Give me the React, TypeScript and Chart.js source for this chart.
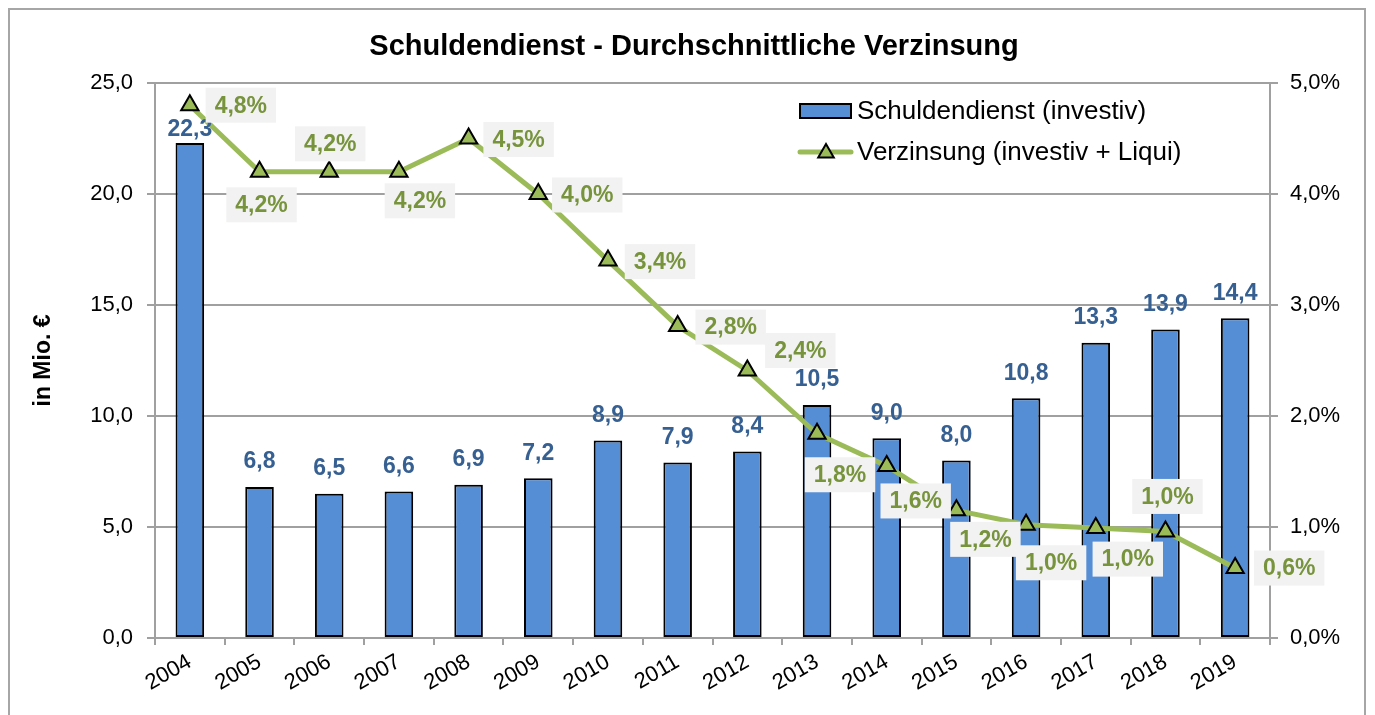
import { useEffect, useRef } from "react";
import { Chart, registerables } from "chart.js";

Chart.register(...registerables);

const years = ["2004", "2005", "2006", "2007", "2008", "2009", "2010", "2011", "2012", "2013", "2014", "2015", "2016", "2017", "2018", "2019"];
const debtService = [22.3, 6.8, 6.5, 6.6, 6.9, 7.2, 8.9, 7.9, 8.4, 10.5, 9.0, 8.0, 10.8, 13.3, 13.9, 14.4];
const interestRate = [4.8, 4.2, 4.2, 4.2, 4.5, 4.0, 3.4, 2.81, 2.41, 1.84, 1.55, 1.15, 1.02, 0.99, 0.96, 0.63];
const leftTicks = [0, 5, 10, 15, 20, 25];
const rightTicks = [0, 1, 2, 3, 4, 5];

const titleText = "Schuldendienst - Durchschnittliche Verzinsung";
const barLegend = "Schuldendienst (investiv)";
const lineLegend = "Verzinsung (investiv + Liqui)";
const yTitle = "in Mio. €";

// label placement (layout only)
const rateLabelOffsets: [number, number][] = [
  [51, 0], [2, 33], [1, -28], [21, 29], [50, 1], [49, 1], [52, 1], [53, 1],
  [53, -20], [23, 41], [29, 35], [29, 29], [25, 38], [32, 31], [2, -35], [54, 0],
];
const barLabelGap = [13, 25, 25, 25, 25, 25, 25, 25, 25, 25, 25, 25, 25, 25, 25, 25];

const FONT = "'Liberation Sans', Arial, sans-serif";
const BLUE = "#558ED5";
const GREEN = "#9BBB59";
const GRID = "#A0A0A0";

const fmt1 = (v: number) => (Math.round(v * 10 + 1e-6) / 10).toFixed(1).replace(".", ",");

function triangle(ctx: CanvasRenderingContext2D, x: number, y: number, r: number) {
  ctx.beginPath();
  ctx.moveTo(x, y - r);
  ctx.lineTo(x + r * Math.sin((2 * Math.PI) / 3), y - r * Math.cos((2 * Math.PI) / 3));
  ctx.lineTo(x + r * Math.sin((4 * Math.PI) / 3), y - r * Math.cos((4 * Math.PI) / 3));
  ctx.closePath();
  ctx.fillStyle = GREEN;
  ctx.fill();
  ctx.lineWidth = 2;
  ctx.strokeStyle = "#000";
  ctx.stroke();
}

const decorPlugin = {
  id: "decor",
  beforeDraw(chart: any) {
    const ctx = chart.ctx as CanvasRenderingContext2D;
    ctx.save();
    ctx.fillStyle = "#fff";
    ctx.fillRect(0, 0, chart.width, chart.height);
    ctx.strokeStyle = "#A6A6A6";
    ctx.lineWidth = 2;
    ctx.strokeRect(9, 9, 1356, 730);
    ctx.restore();
  },
  afterDatasetsDraw(chart: any) {
    const ctx = chart.ctx as CanvasRenderingContext2D;
    ctx.save();
    // bar labels
    const barMeta = chart.getDatasetMeta(1);
    ctx.font = `bold 23px ${FONT}`;
    ctx.fillStyle = "#376092";
    ctx.textAlign = "center";
    ctx.textBaseline = "middle";
    barMeta.data.forEach((el: any, i: number) => {
      ctx.fillText(fmt1(debtService[i]), el.x, el.y - barLabelGap[i]);
    });
    // line labels
    const lineMeta = chart.getDatasetMeta(0);
    lineMeta.data.forEach((el: any, i: number) => {
      const txt = fmt1(interestRate[i]) + "%";
      const [dx, dy] = rateLabelOffsets[i];
      const cx = el.x + dx;
      const cy = el.y + dy;
      const w = ctx.measureText(txt).width + 18;
      const h = 35;
      ctx.fillStyle = "#F2F2F2";
      ctx.fillRect(cx - w / 2, cy - h / 2, w, h);
      ctx.fillStyle = "#77933C";
      ctx.fillText(txt, cx, cy + 1);
    });
    ctx.restore();
  },
  afterDraw(chart: any) {
    const ctx = chart.ctx as CanvasRenderingContext2D;
    ctx.save();
    // title
    ctx.fillStyle = "#000";
    ctx.font = `bold 29px ${FONT}`;
    ctx.textAlign = "center";
    ctx.textBaseline = "middle";
    ctx.fillText(titleText, 694, 47, 654);
    // legend
    ctx.fillStyle = BLUE;
    ctx.fillRect(800, 104, 51, 14);
    ctx.strokeStyle = "#000";
    ctx.lineWidth = 2;
    ctx.strokeRect(800, 104, 51, 14);
    ctx.strokeStyle = GREEN;
    ctx.lineWidth = 5;
    ctx.lineCap = "round";
    ctx.beginPath();
    ctx.moveTo(800, 152);
    ctx.lineTo(851, 152);
    ctx.stroke();
    triangle(ctx, 826, 153, 9);
    ctx.fillStyle = "#000";
    ctx.font = `26px ${FONT}`;
    ctx.textAlign = "left";
    ctx.textBaseline = "middle";
    ctx.fillText(barLegend, 857, 112);
    ctx.fillText(lineLegend, 857, 153);
    ctx.restore();
  },
};

export default function App() {
  const ref = useRef<HTMLCanvasElement | null>(null);
  useEffect(() => {
    document.body.style.margin = "0";
    const canvas = ref.current!;
    const chart = new Chart(canvas, {
      type: "bar",
      data: {
        labels: years,
        datasets: [
          {
            type: "line",
            label: lineLegend,
            data: interestRate,
            yAxisID: "y1",
            order: 0,
            borderColor: GREEN,
            borderWidth: 5,
            tension: 0,
            borderJoinStyle: "round",
            pointStyle: "triangle",
            pointRadius: 10,
            pointBackgroundColor: GREEN,
            pointBorderColor: "#000",
            pointBorderWidth: 2,
          } as any,
          {
            type: "bar",
            label: barLegend,
            data: debtService,
            yAxisID: "y",
            order: 1,
            backgroundColor: BLUE,
            borderColor: "#000",
            borderWidth: 2,
            borderSkipped: false,
            barPercentage: 0.41,
            categoryPercentage: 1,
          } as any,
        ],
      },
      options: {
        responsive: false,
        animation: false,
        devicePixelRatio: 1,
        layout: { padding: { top: 83, left: 0, right: 0, bottom: 0 } },
        plugins: { legend: { display: false }, title: { display: false }, tooltip: { enabled: false } },
        scales: {
          x: {
            offset: true,
            grid: { drawOnChartArea: false, drawTicks: true, tickLength: 7, color: GRID, lineWidth: 2 },
            border: { color: GRID, width: 2 },
            ticks: { minRotation: 30, maxRotation: 30, color: "#000", font: { family: FONT, size: 22 }, padding: 4 },
            afterFit: (s: any) => { s.height = 77; },
          },
          y: {
            position: "left",
            min: 0,
            max: 25,
            afterBuildTicks: (s: any) => { s.ticks = leftTicks.map((v) => ({ value: v })); },
            ticks: { color: "#000", font: { family: FONT, size: 22 }, padding: 14, callback: (v: any) => fmt1(Number(v)) },
            grid: { color: GRID, lineWidth: 2, tickLength: 8 },
            border: { color: GRID, width: 2 },
            title: { display: true, text: yTitle, color: "#000", font: { family: FONT, size: 23, weight: "bold" }, padding: { top: 30, bottom: 0 } },
            afterFit: (s: any) => { s.width = 155; },
          },
          y1: {
            position: "right",
            min: 0,
            max: 5,
            afterBuildTicks: (s: any) => { s.ticks = rightTicks.map((v) => ({ value: v })); },
            ticks: { color: "#000", font: { family: FONT, size: 22 }, padding: 12, callback: (v: any) => fmt1(Number(v)) + "%" },
            grid: { drawOnChartArea: false, color: GRID, lineWidth: 2, tickLength: 8 },
            border: { color: GRID, width: 2 },
            afterFit: (s: any) => { s.width = 105; },
          },
        },
      } as any,
      plugins: [decorPlugin],
    });
    return () => chart.destroy();
  }, []);
  return <canvas ref={ref} width={1375} height={715} style={{ display: "block", width: 1375, height: 715 }} />;
}
